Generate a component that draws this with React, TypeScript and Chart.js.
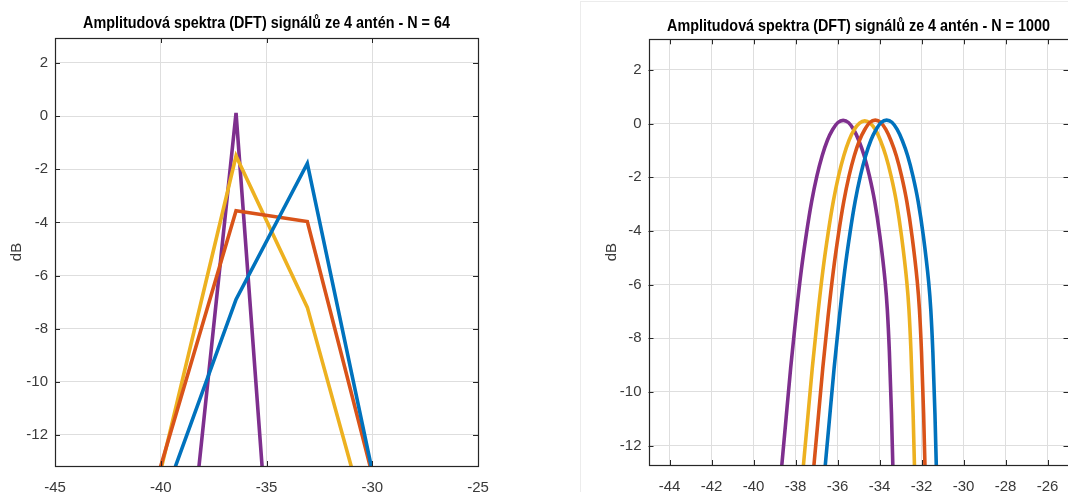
import React, { useEffect, useRef } from 'react';
import { Chart, registerables } from 'chart.js';

Chart.register(...registerables);

// ---------- data: N = 64 (left) ----------
const BINS_64 = [-41, -36.44, -33.07, -29];
const BLUE_64 = [-16.9, -6.9, -1.78, -17.13];
const ORANGE_64 = [-15.87, -3.56, -3.97, -16.59];
const YELLOW_64 = [-16.66, -1.5, -7.2, -18.93];
const PURPLE_64 = [-34.5, 0.12, -36.3, -40];

// ---------- data: N = 1000 (right) ----------
const PURPLE_1000_X = [-38.98, -38.73, -38.48, -38.23, -37.98, -37.73, -37.48, -37.23, -36.98, -36.73, -36.48, -36.23, -35.98, -35.73, -35.48, -35.23, -34.98, -34.73, -34.48, -34.23, -33.98, -33.73, -33.63, -33.53, -33.43, -33.33, -33.23];
const PURPLE_1000_Y = [-15.7, -13.4, -11.25, -9.1, -7.2, -5.5, -4.1, -2.9, -1.95, -1.2, -0.62, -0.22, 0.04, 0.12, 0.04, -0.22, -0.64, -1.2, -1.95, -2.9, -4.2, -5.9, -6.9, -8.5, -10.8, -13.8, -17.2];
const YELLOW_1000_X = [-37.95, -37.7, -37.45, -37.2, -36.95, -36.7, -36.45, -36.2, -35.95, -35.7, -35.45, -35.2, -34.95, -34.7, -34.45, -34.2, -33.95, -33.7, -33.45, -33.2, -32.95, -32.7, -32.6, -32.5, -32.4, -32.3, -32.2];
const YELLOW_1000_Y = [-15.7, -13.4, -11.25, -9.1, -7.2, -5.5, -4.1, -2.9, -1.95, -1.2, -0.62, -0.22, 0.02, 0.1, 0.02, -0.22, -0.64, -1.2, -1.95, -2.9, -4.2, -5.9, -6.9, -8.5, -10.8, -13.8, -17.2];
const ORANGE_1000_X = [-37.45, -37.2, -36.95, -36.7, -36.45, -36.2, -35.95, -35.7, -35.45, -35.2, -34.95, -34.7, -34.45, -34.2, -33.95, -33.7, -33.45, -33.2, -32.95, -32.7, -32.45, -32.2, -32.1, -32.0, -31.9, -31.8, -31.7];
const ORANGE_1000_Y = [-15.7, -13.4, -11.25, -9.1, -7.2, -5.5, -4.1, -2.9, -1.95, -1.2, -0.62, -0.22, 0.05, 0.13, 0.05, -0.22, -0.64, -1.2, -1.95, -2.9, -4.2, -5.9, -6.9, -8.5, -10.8, -13.8, -17.2];
const BLUE_1000_X = [-36.91, -36.66, -36.41, -36.16, -35.91, -35.66, -35.41, -35.16, -34.91, -34.66, -34.41, -34.16, -33.91, -33.66, -33.41, -33.16, -32.91, -32.66, -32.41, -32.16, -31.91, -31.66, -31.56, -31.46, -31.36, -31.26, -31.16];
const BLUE_1000_Y = [-15.7, -13.4, -11.25, -9.1, -7.2, -5.5, -4.1, -2.9, -1.95, -1.2, -0.62, -0.22, 0.05, 0.13, 0.05, -0.22, -0.64, -1.2, -1.95, -2.9, -4.2, -5.9, -6.9, -8.5, -10.8, -13.8, -17.2];

// ---------- ticks / labels ----------
const X_TICKS_64 = [-45, -40, -35, -30, -25];
const X_TICKS_1000 = [-44, -42, -40, -38, -36, -34, -32, -30, -28, -26];
const Y_TICKS = [-12, -10, -8, -6, -4, -2, 0, 2];
const TITLE_64 = 'Amplitudová spektra (DFT) signálů ze 4 antén - N = 64';
const TITLE_1000 = 'Amplitudová spektra (DFT) signálů ze 4 antén - N = 1000';
const Y_LABEL = 'dB';

const COLORS = { blue: '#0072BD', orange: '#D95319', yellow: '#EDB120', purple: '#7E2F8E' };
const FONT = "'Liberation Sans', Arial, Helvetica, sans-serif";
const TICK_COLOR = '#3a3a3a';

const boxPlugin = {
  id: 'matlabBox',
  afterDraw(chart: any, _args: any, opts: any) {
    const { ctx, chartArea } = chart;
    const { left, right, top, bottom } = chartArea;
    const x = chart.scales.x;
    const y = chart.scales.y;
    const L = 5;
    ctx.save();
    ctx.strokeStyle = '#262626';
    ctx.lineWidth = 1;
    ctx.beginPath();
    x.ticks.forEach((t: any) => {
      const px = Math.round(x.getPixelForValue(t.value)) + 0.5;
      ctx.moveTo(px, bottom);
      ctx.lineTo(px, bottom - L);
      ctx.moveTo(px, top);
      ctx.lineTo(px, top + L);
    });
    y.ticks.forEach((t: any) => {
      const py = Math.round(y.getPixelForValue(t.value)) + 0.5;
      ctx.moveTo(left, py);
      ctx.lineTo(left + L, py);
      ctx.moveTo(right, py);
      ctx.lineTo(right - L, py);
    });
    ctx.stroke();
    ctx.lineWidth = 1.2;
    ctx.strokeRect(Math.round(left) + 0.5, Math.round(top) + 0.5, Math.round(right - left), Math.round(bottom - top));

    // MATLAB-style (condensed) bold title centred over the axes
    if (opts && opts.text) {
      ctx.fillStyle = '#000';
      ctx.font = 'bold 17px ' + FONT;
      ctx.textAlign = 'center';
      ctx.textBaseline = 'alphabetic';
      ctx.translate((left + right) / 2, opts.baseline);
      ctx.scale(0.845, 1);
      ctx.fillText(opts.text, 0, 0);
    }
    ctx.restore();
  },
};

function ds(label: string, xs: number[], ys: number[], color: string, smooth: boolean) {
  return {
    label,
    data: xs.map((v, i) => ({ x: v, y: ys[i] })),
    borderColor: color,
    backgroundColor: color,
    borderWidth: 3.6,
    pointRadius: 0,
    fill: false,
    tension: 0,
    cubicInterpolationMode: smooth ? 'monotone' : 'default',
  };
}

function makeConfig(opts: any) {
  const { datasets, xTicks, yMin, yMax, title, titleBaseline, pad, yWidth, xHeight, yTitlePad } = opts;
  return {
    type: 'line',
    data: { datasets },
    plugins: [boxPlugin],
    options: {
      animation: false,
      responsive: false,
      maintainAspectRatio: false,
      events: [],
      layout: { padding: pad },
      plugins: {
        legend: { display: false },
        tooltip: { enabled: false },
        title: { display: false },
        matlabBox: { text: title, baseline: titleBaseline },
      },
      scales: {
        x: {
          type: 'linear',
          min: -45,
          max: -25,
          afterBuildTicks: (s: any) => { s.ticks = xTicks.map((v: number) => ({ value: v })); },
          afterFit: (s: any) => { s.height = xHeight; },
          grid: { color: '#dedede', lineWidth: 1, drawTicks: false },
          border: { display: false },
          ticks: { padding: 13, color: TICK_COLOR, font: { family: FONT, size: 15 }, maxRotation: 0, autoSkip: false },
        },
        y: {
          type: 'linear',
          min: yMin,
          max: yMax,
          afterBuildTicks: (s: any) => { s.ticks = Y_TICKS.map((v) => ({ value: v })); },
          afterFit: (s: any) => { s.width = yWidth; },
          grid: { color: '#dedede', lineWidth: 1, drawTicks: false },
          border: { display: false },
          ticks: { padding: 7, color: TICK_COLOR, font: { family: FONT, size: 15 }, autoSkip: false },
          title: { display: true, text: Y_LABEL, color: TICK_COLOR, font: { family: FONT, size: 15 }, padding: { top: yTitlePad, bottom: 0 } },
        },
      },
    },
  };
}

export default function App() {
  const leftRef = useRef<HTMLCanvasElement>(null);
  const rightRef = useRef<HTMLCanvasElement>(null);

  useEffect(() => {
    const left = new Chart(leftRef.current as HTMLCanvasElement, makeConfig({
      datasets: [
        ds('Anténa 1', BINS_64, BLUE_64, COLORS.blue, false),
        ds('Anténa 2', BINS_64, ORANGE_64, COLORS.orange, false),
        ds('Anténa 3', BINS_64, YELLOW_64, COLORS.yellow, false),
        ds('Anténa 4', BINS_64, PURPLE_64, COLORS.purple, false),
      ],
      xTicks: X_TICKS_64,
      yMin: -13.17,
      yMax: 2.94,
      title: TITLE_64,
      titleBaseline: 27.5,
      pad: { left: 0, right: 56, top: 38, bottom: 0 },
      yWidth: 55,
      xHeight: 26,
      yTitlePad: 8,
    }) as any);
    const right = new Chart(rightRef.current as HTMLCanvasElement, makeConfig({
      datasets: [
        ds('Anténa 1', BLUE_1000_X, BLUE_1000_Y, COLORS.blue, true),
        ds('Anténa 2', ORANGE_1000_X, ORANGE_1000_Y, COLORS.orange, true),
        ds('Anténa 3', YELLOW_1000_X, YELLOW_1000_Y, COLORS.yellow, true),
        ds('Anténa 4', PURPLE_1000_X, PURPLE_1000_Y, COLORS.purple, true),
      ],
      xTicks: X_TICKS_1000,
      yMin: -12.72,
      yMax: 3.14,
      title: TITLE_1000,
      titleBaseline: 30.8,
      pad: { left: 60, right: 65.5, top: 39.3, bottom: 0 },
      yWidth: 54.5,
      xHeight: 27,
      yTitlePad: 9,
    }) as any);
    return () => {
      left.destroy();
      right.destroy();
    };
  }, []);

  return (
    <div style={{ position: 'fixed', left: 0, top: 0, width: 1068, height: 492, overflow: 'hidden', background: '#fff' }}>
      <div style={{ position: 'absolute', left: 580, top: 1, width: 700, height: 600, borderLeft: '1px solid #ececec', borderTop: '1px solid #ececec' }} />
      <canvas ref={leftRef} width={534} height={492} style={{ position: 'absolute', left: 0, top: 0, width: 534, height: 492 }} />
      <canvas ref={rightRef} width={600} height={492} style={{ position: 'absolute', left: 534, top: 0, width: 600, height: 492 }} />
    </div>
  );
}
